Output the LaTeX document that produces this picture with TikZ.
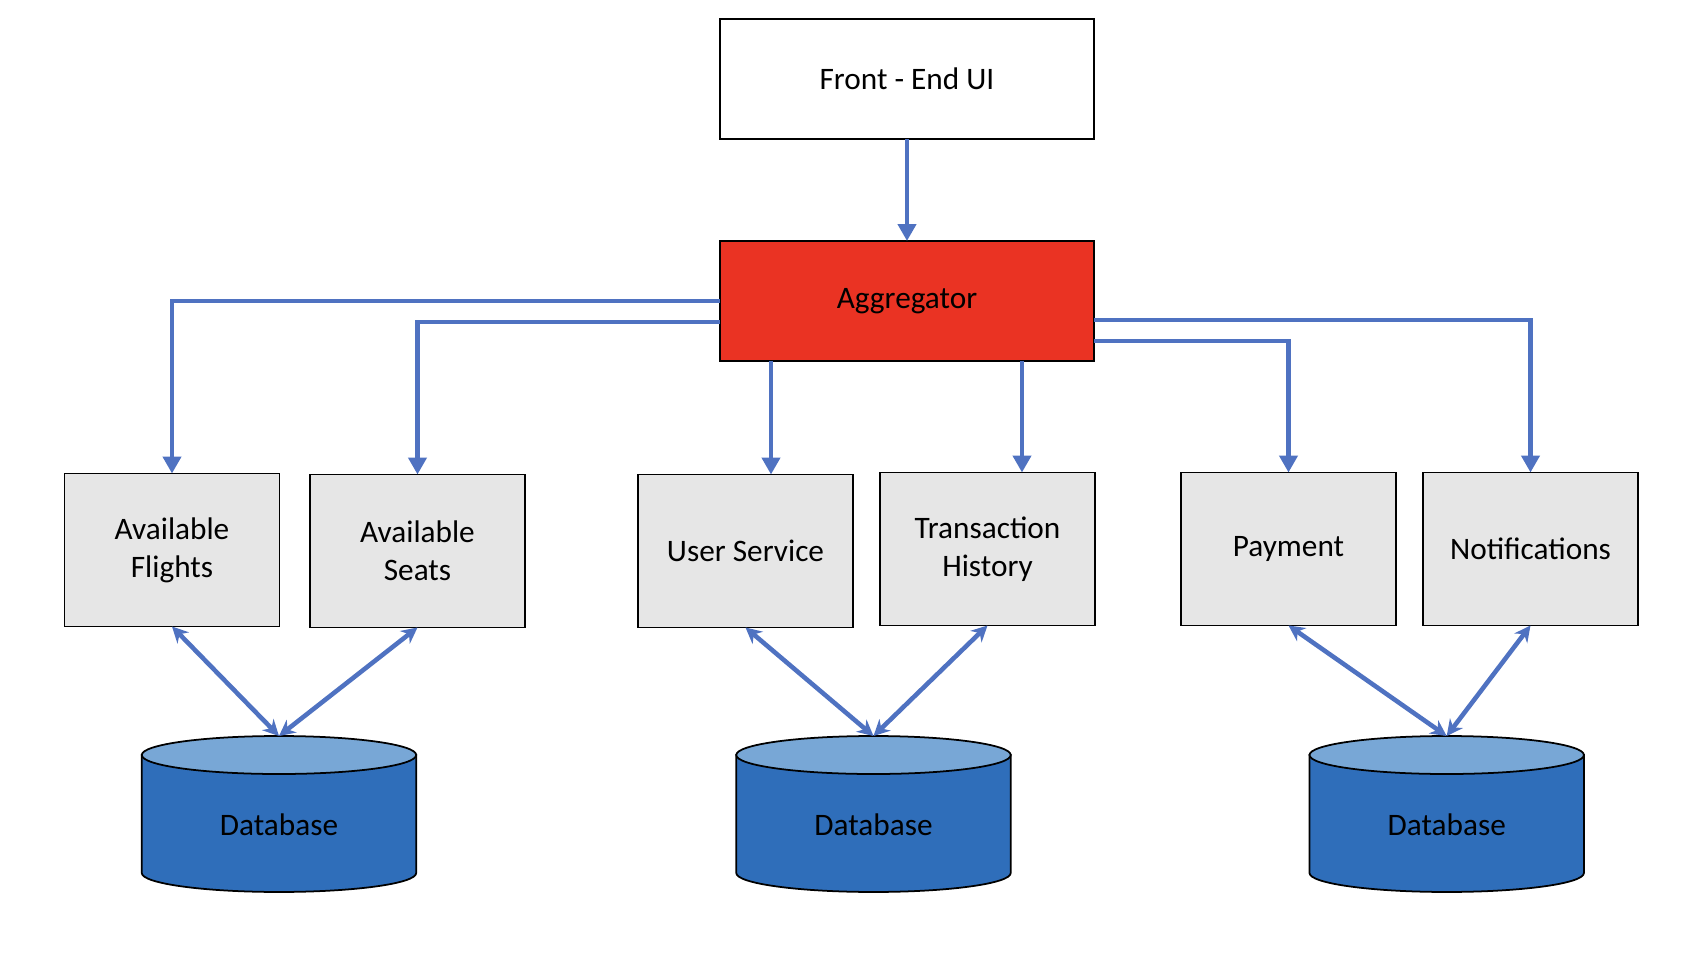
\documentclass[tikz,border=0pt]{standalone}
\usepackage{fontspec}
\setmainfont{Carlito}
\usepackage{tikz}
\usetikzlibrary{arrows.meta,positioning,backgrounds}

\definecolor{linkblue}{HTML}{4F72C1}
\definecolor{aggred}{HTML}{EA3323}
\definecolor{boxgray}{HTML}{E6E6E6}
\definecolor{dbbody}{HTML}{2F6EBA}
\definecolor{dbtop}{HTML}{78A7D6}

\newcommand{\dbdrum}[1]{%
  \draw[line width=1pt,fill=dbbody] ([yshift=-0.38cm]#1.north west) -- ([yshift=0.38cm]#1.south west)
    arc[start angle=180,end angle=360,x radius=2.745cm,y radius=0.38cm]
    -- ([yshift=-0.38cm]#1.north east) -- cycle;
  \draw[line width=1pt,fill=dbtop] ([yshift=-0.38cm]#1.north) ellipse[x radius=2.745cm,y radius=0.38cm];
}

\begin{document}
\begin{tikzpicture}[x=0.02cm, y=0.02cm,
  every node/.style={font=\fontsize{17.8}{21.6}\selectfont, inner sep=0pt, outer sep=0pt},
  uibox/.style={draw, line width=1pt, minimum width=7.48cm, minimum height=2.4cm},
  svcbox/.style={draw, line width=1pt, fill=boxgray, align=center, minimum width=4.3cm, minimum height=3.06cm},
  dbnode/.style={minimum width=5.49cm, minimum height=3.12cm, text height=0.88cm, text depth=0pt},
  link/.style={draw=linkblue, line width=2.8pt, -{Triangle[width=0.36cm,length=0.34cm]}},
  dblink/.style={draw=linkblue, line width=2.6pt, {Stealth[width=0.32cm,length=0.32cm]}-{Stealth[width=0.32cm,length=0.32cm]}}]
\useasboundingbox (0,0) rectangle (1708,958);

\node (front)[uibox] at (907,879) {Front - End UI};
\node (agg)[uibox, fill=aggred] at (907,657) {Aggregator};

\node (flights)[svcbox] at (172,408) {Available\\Flights};
\node (seats)[svcbox] at (417.5,407) {Available\\Seats};
\node (user)[svcbox] at (745.5,407) {User Service};
\node (trans)[svcbox] at (987.5,409) {Transaction\\History};
\node (pay)[svcbox] at (1288.5,409) {Payment};
\node (notif)[svcbox] at (1530.5,409) {Notifications};

\node (db1)[dbnode] at (279,144) {Database};
\node (db2)[dbnode] at (873.5,144) {Database};
\node (db3)[dbnode] at (1446.7,144) {Database};
\begin{scope}[on background layer]
  \dbdrum{db1}
  \dbdrum{db2}
  \dbdrum{db3}
\end{scope}

\coordinate (usr) at ([xshift=0.51cm]user.north);
\coordinate (trs) at ([xshift=0.69cm]trans.north);

\draw[link] (front.south) -- (agg.north);
\draw[link] (agg.west) -| (flights.north);
\draw[link] ([yshift=-0.42cm]agg.west) -| (seats.north);
\draw[link] (agg.south -| usr) -- (usr);
\draw[link] (agg.south -| trs) -- (trs);
\draw[link] ([yshift=-0.8cm]agg.east) -| (pay.north);
\draw[link] ([yshift=-0.38cm]agg.east) -| (notif.north);

\draw[dblink] (flights.south) -- (db1.north);
\draw[dblink] (seats.south) -- (db1.north);
\draw[dblink] (user.south) -- (db2.north);
\draw[dblink] (trans.south) -- (db2.north);
\draw[dblink] (pay.south) -- (db3.north);
\draw[dblink] (notif.south) -- (db3.north);
\end{tikzpicture}
\end{document}
